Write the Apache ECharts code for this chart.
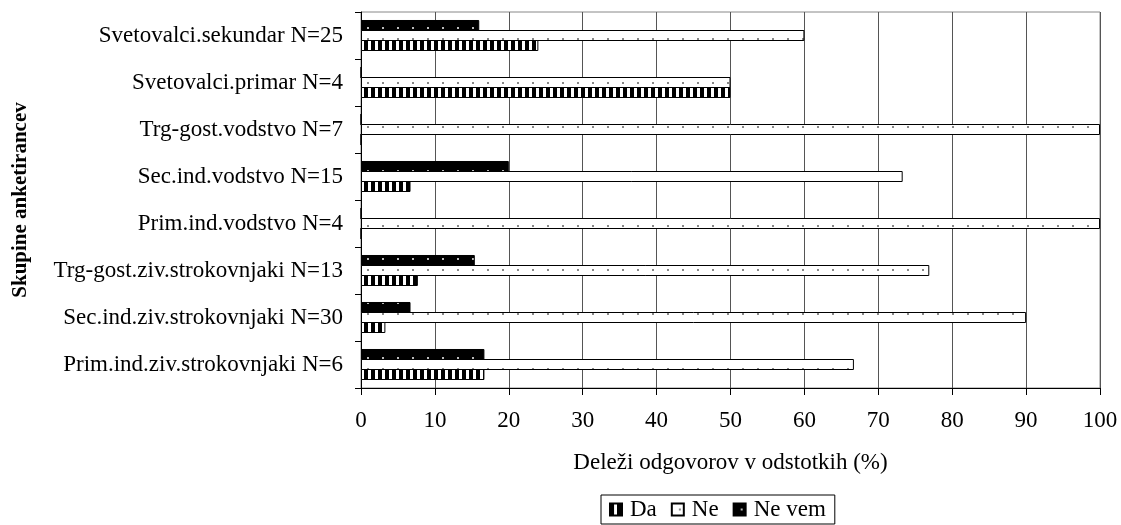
<!DOCTYPE html>
<html>
<head>
<meta charset="utf-8">
<script src="https://cdn.jsdelivr.net/npm/echarts@6/dist/echarts.min.js"></script>
<style>
html,body{margin:0;padding:0;background:#fff;}
#chart{width:1121px;height:525px;}
</style>
</head>
<body>
<div id="chart"></div>
<script>
// Categories listed bottom to top
const categories = [
  'Prim.ind.ziv.strokovnjaki N=6',
  'Sec.ind.ziv.strokovnjaki N=30',
  'Trg-gost.ziv.strokovnjaki N=13',
  'Prim.ind.vodstvo N=4',
  'Sec.ind.vodstvo N=15',
  'Trg-gost.vodstvo N=7',
  'Svetovalci.primar N=4',
  'Svetovalci.sekundar N=25'
];
const seriesNames = ['Da', 'Ne', 'Ne vem'];
const daValues    = [16.7, 3.3, 7.7, 0, 6.7, 0, 50, 24];
const neValues    = [66.7, 90, 76.9, 100, 73.3, 100, 50, 60];
const neVemValues = [16.7, 6.7, 15.4, 0, 20, 0, 0, 16];
const xTicks = [0, 10, 20, 30, 40, 50, 60, 70, 80, 90, 100];

function makePattern(kind) {
  const c = document.createElement('canvas');
  const ctx = c.getContext('2d');
  if (kind === 'stripes') {
    c.width = 7; c.height = 7;
    ctx.fillStyle = '#fff'; ctx.fillRect(0, 0, 7, 7);
    ctx.fillStyle = '#000'; ctx.fillRect(0, 0, 4, 7);
  } else if (kind === 'dotsWhite') {
    c.width = 15; c.height = 11;
    ctx.fillStyle = '#fff'; ctx.fillRect(0, 0, 15, 11);
    ctx.fillStyle = '#888'; ctx.fillRect(7, 5, 2, 2);
  } else {
    c.width = 15; c.height = 11;
    ctx.fillStyle = '#000'; ctx.fillRect(0, 0, 15, 11);
    ctx.fillStyle = '#bbb'; ctx.fillRect(7, 5, 2, 2);
  }
  return { image: c, repeat: 'repeat' };
}

const font = 'Liberation Serif';
const chart = echarts.init(document.getElementById('chart'), null, { renderer: 'canvas' });

function barSeries(name, data, pattern) {
  return {
    name: name,
    type: 'bar',
    data: data,
    barWidth: 11,
    barGap: '-9%',
    itemStyle: { color: pattern, borderColor: '#000', borderWidth: 1 },
    emphasis: { disabled: true },
    animation: false
  };
}

chart.setOption({
  backgroundColor: '#fff',
  animation: false,
  grid: {
    left: 361, right: 21, top: 12, bottom: 137,
    show: true, borderColor: '#888', borderWidth: 1, backgroundColor: 'transparent'
  },
  legend: {
    data: seriesNames,
    left: 601, top: 495,
    orient: 'horizontal',
    borderColor: '#000', borderWidth: 1, borderRadius: 0,
    padding: [3, 9, 3, 8],
    itemWidth: 12, itemHeight: 12, itemGap: 14,
    icon: 'rect',
    textStyle: { fontFamily: font, fontSize: 23, color: '#000', padding: [0, 0, 0, 3] },
    selectedMode: false
  },
  xAxis: {
    type: 'value',
    min: 0, max: 100, interval: 10,
    name: 'Deleži odgovorov v odstotkih (%)',
    nameLocation: 'middle',
    nameGap: 63,
    nameTextStyle: { fontFamily: font, fontSize: 23, color: '#000' },
    axisLine: { show: true, lineStyle: { color: '#000', width: 1 } },
    axisTick: { show: true, inside: false, length: 7, lineStyle: { color: '#000' } },
    axisLabel: { fontFamily: font, fontSize: 23, color: '#000', margin: 21,
      formatter: function (v) { return xTicks.indexOf(v) >= 0 ? String(v) : ''; } },
    splitLine: { show: true, lineStyle: { color: '#555', width: 1 } }
  },
  yAxis: {
    type: 'category',
    data: categories,
    name: 'Skupine anketirancev',
    nameLocation: 'middle',
    nameRotate: 90,
    nameGap: 330,
    nameTextStyle: { fontFamily: font, fontSize: 21, fontWeight: 'bold', color: '#000' },
    axisLine: { show: true, lineStyle: { color: '#000', width: 1 } },
    axisTick: { show: true, inside: false, length: 6, alignWithLabel: false, lineStyle: { color: '#000' } },
    axisLabel: { fontFamily: font, fontSize: 23, color: '#000', margin: 18 },
    splitLine: { show: false }
  },
  series: [
    barSeries(seriesNames[2], neVemValues, makePattern('dotsBlack')),
    barSeries(seriesNames[1], neValues, makePattern('dotsWhite')),
    barSeries(seriesNames[0], daValues, makePattern('stripes'))
  ]
});
</script>
</body>
</html>
